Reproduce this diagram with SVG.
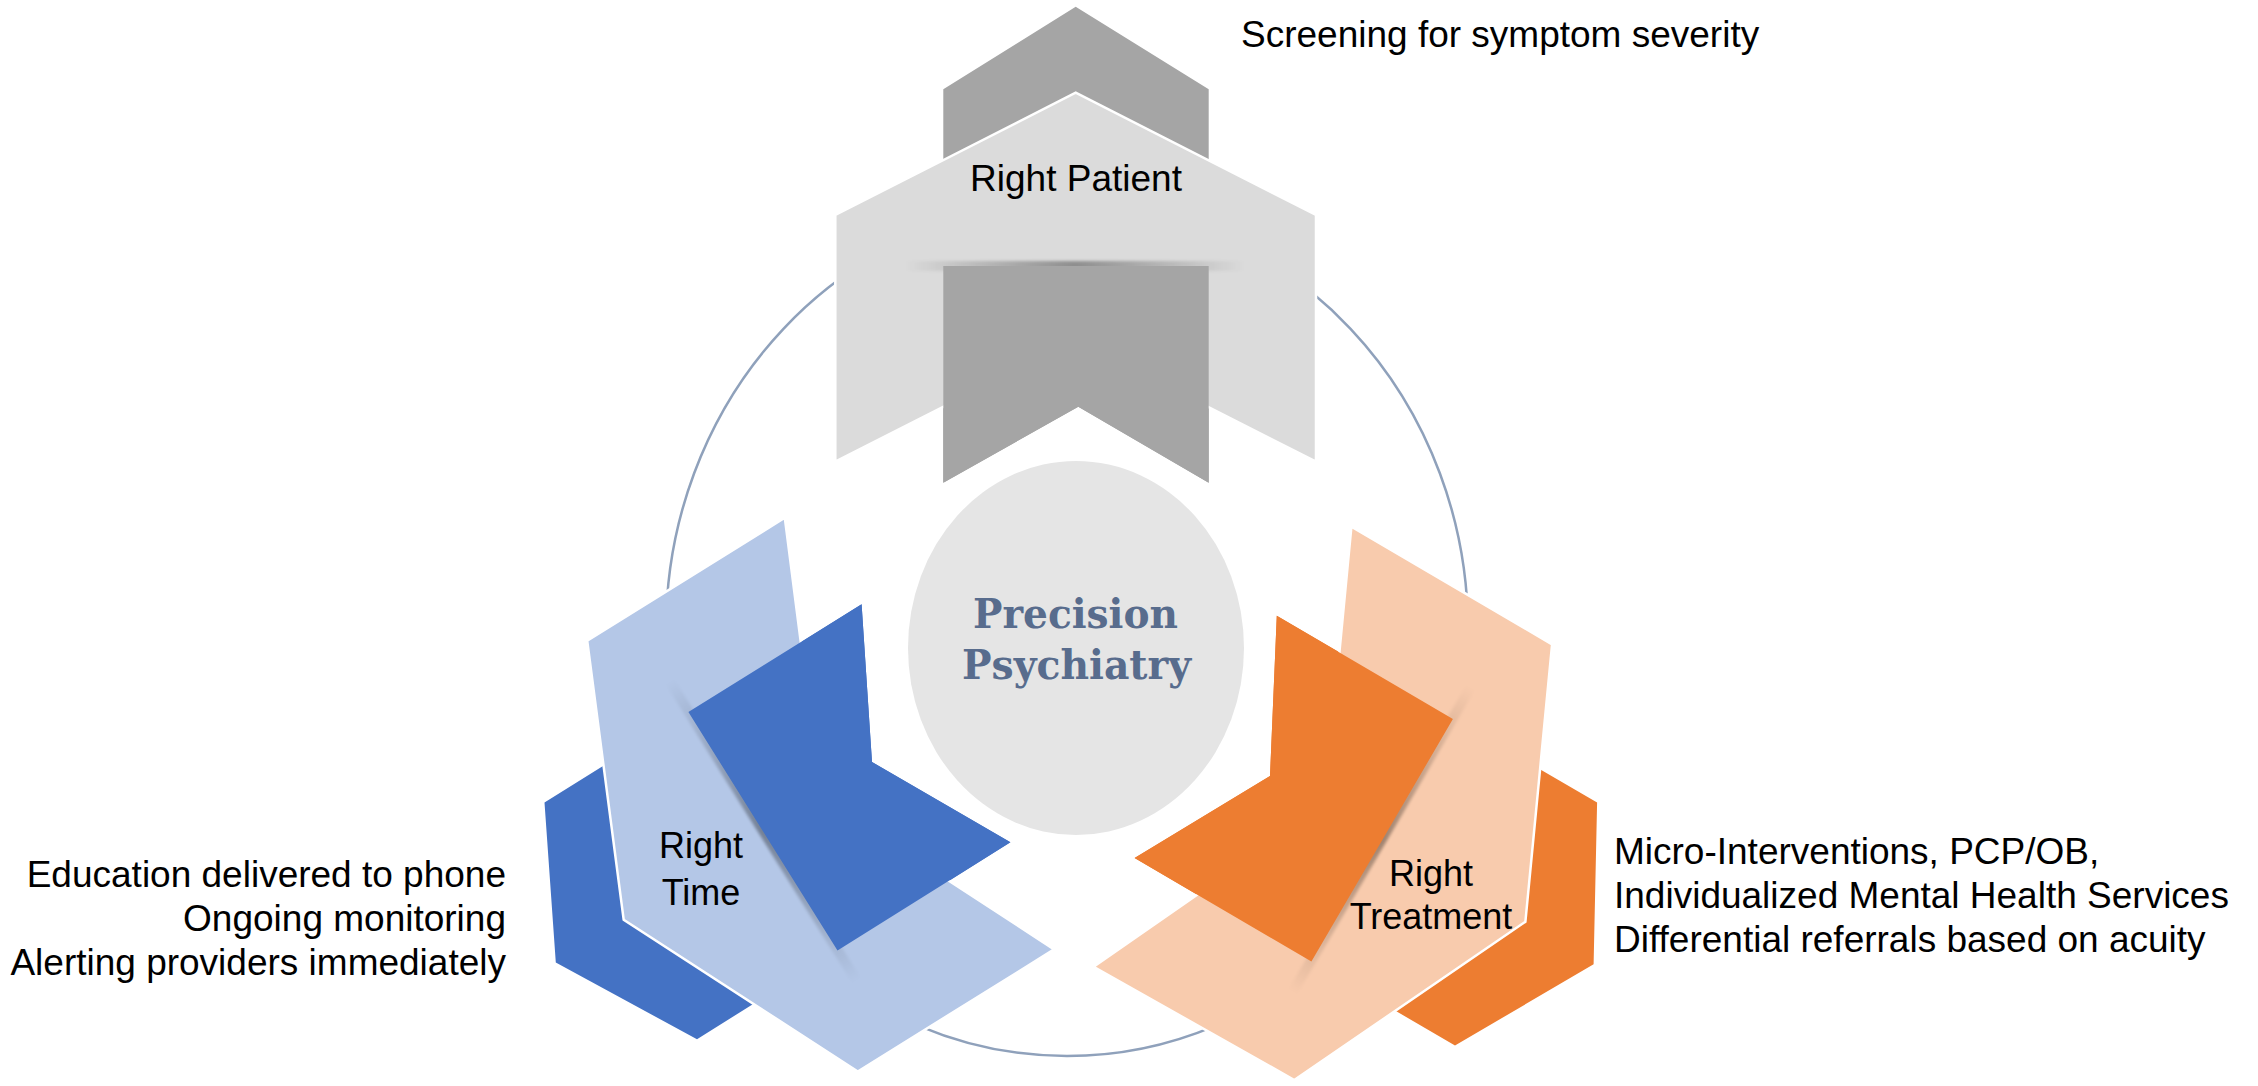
<svg xmlns="http://www.w3.org/2000/svg" width="2258" height="1086" viewBox="0 0 2258 1086">
  <style>
    .lbl { font-family: "Liberation Sans", Arial, sans-serif; font-size: 37px; fill: #000000; }
    .node-lbl { font-family: "Liberation Sans", Arial, sans-serif; font-size: 36px; fill: #000000; text-anchor: middle; }
    .center-lbl { font-family: "DejaVu Serif", Georgia, serif; font-weight: bold; font-size: 41px; fill: #586C8D; }
    .ring { fill: none; stroke: #8FA1BB; stroke-width: 2.5; }
    .light { stroke: #FFFFFF; stroke-width: 2.5; stroke-linejoin: miter; }
    .gd { fill: #A5A5A5; } .gl { fill: #DBDBDB; }
    .bd { fill: #4472C4; } .bl { fill: #B4C7E7; }
    .od { fill: #ED7D31; } .ol { fill: #F8CBAD; }
  </style>
  <defs>
    <linearGradient id="shadowH" x1="0" y1="0" x2="1" y2="0">
      <stop offset="0" stop-color="#000" stop-opacity="0"/>
      <stop offset="0.5" stop-color="#000" stop-opacity="0.35"/>
      <stop offset="1" stop-color="#000" stop-opacity="0"/>
    </linearGradient>
    <filter id="soft" x="-10%" y="-200%" width="120%" height="500%">
      <feGaussianBlur stdDeviation="1.5"/>
    </filter>
  </defs>
  <rect width="2258" height="1086" fill="#FFFFFF"/>

  <g id="connectors">
    <ellipse class="ring" cx="1067" cy="630" rx="401" ry="426"/>
  </g>

  <g id="node-center">
    <ellipse cx="1076" cy="648" rx="168" ry="187" fill="#E5E5E5"/>
    <text class="center-lbl" x="973" y="628" textLength="205" lengthAdjust="spacingAndGlyphs">Precision</text>
    <text class="center-lbl" x="962" y="679" textLength="229" lengthAdjust="spacingAndGlyphs">Psychiatry</text>
  </g>

  <g id="node-patient">
    <polygon class="gd" points="943.3,89.3 1075.7,6.7 1208.7,89.3 1208.7,482.7 1078.3,406.7 943.3,482.7"/>
    <polygon class="gl light" points="835.3,215 1075.7,92.7 1316,215 1316,461.7 1075.7,339.7 835.3,461.7"/>
    <rect x="905" y="261" width="340" height="10" fill="url(#shadowH)" filter="url(#soft)"/>
    <polygon class="gd" points="943.3,266 1208.7,266 1208.7,482.7 1078.3,406.7 943.3,482.7"/>
    <text class="node-lbl" x="1076" y="191" style="font-size:37px">Right Patient</text>
  </g>

  <g id="node-time">
    <polygon class="bd" points="544.5,802.6 555.8,962.4 697,1039.3 1010.4,842.2 872,762 861.6,604.3"/>
    <polygon class="bl light" points="623.7,919.8 587.2,640.6 784.8,517.8 820.7,797.3 1054.1,949.4 857.8,1071.5"/>
    <g transform="translate(669.5,681) rotate(58)">
      <rect x="0" y="-5" width="354" height="10" fill="url(#shadowH)" filter="url(#soft)"/>
    </g>
    <polygon class="bd" points="688.4,712 861.6,604.3 872,762 1010.4,842.2 837.5,950.5"/>
    <text class="node-lbl" x="701" y="858">Right</text>
    <text class="node-lbl" x="701" y="905">Time</text>
  </g>

  <g id="node-treatment">
    <polygon class="od" points="1597.1,802.6 1593.6,964.2 1455,1045.6 1134.6,858.1 1270,776 1276.8,615.8"/>
    <polygon class="ol light" points="1525.4,921.7 1552.1,644.3 1351.4,526.6 1324.7,806.2 1093.6,966.8 1294.3,1080"/>
    <g transform="translate(1471,686.8) rotate(120.3)">
      <rect x="0" y="-5" width="354" height="10" fill="url(#shadowH)" filter="url(#soft)"/>
    </g>
    <polygon class="od" points="1276.8,615.8 1452.9,719 1311.4,961.6 1134.6,858.1 1270,776"/>
    <text class="node-lbl" x="1431" y="886">Right</text>
    <text class="node-lbl" x="1431" y="929">Treatment</text>
  </g>

  <g id="notes">
    <text class="lbl" x="1241" y="47">Screening for symptom severity</text>
    <text class="lbl" text-anchor="end" x="506" y="887">Education delivered to phone</text>
    <text class="lbl" text-anchor="end" x="506" y="931">Ongoing monitoring</text>
    <text class="lbl" text-anchor="end" x="506" y="975">Alerting providers immediately</text>
    <text class="lbl" x="1614" y="864">Micro-Interventions, PCP/OB,</text>
    <text class="lbl" x="1614" y="908">Individualized Mental Health Services</text>
    <text class="lbl" x="1614" y="952">Differential referrals based on acuity</text>
  </g>
</svg>
